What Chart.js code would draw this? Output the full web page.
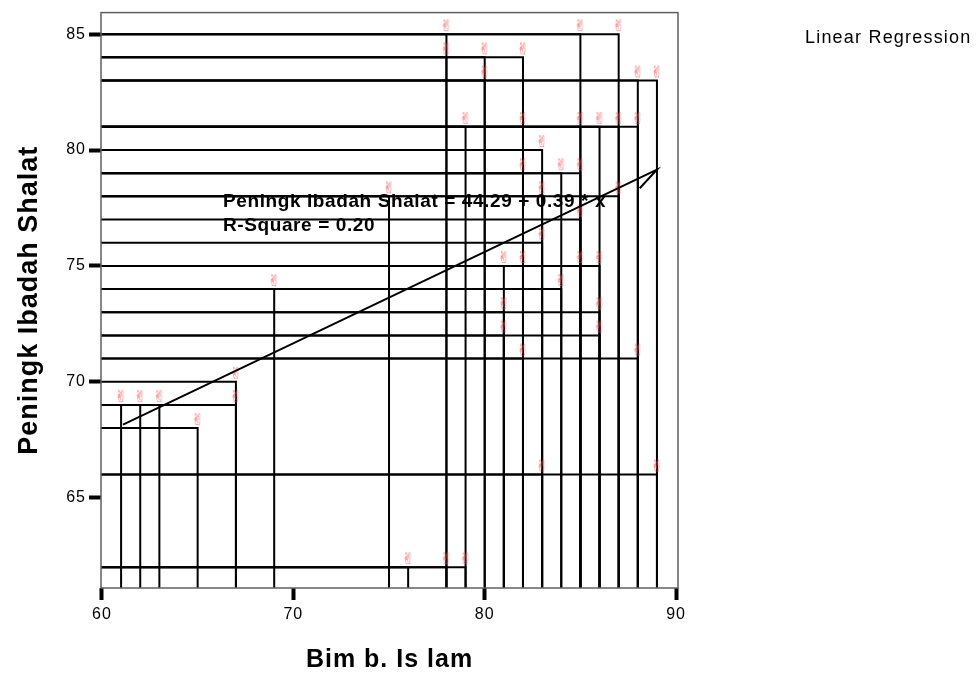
<!DOCTYPE html>
<html>
<head>
<meta charset="utf-8">
<title>Peningk Ibadah Shalat vs Bimb. Islam</title>
<script src="https://cdn.jsdelivr.net/npm/chart.js@4.4.1/dist/chart.umd.min.js"></script>
<style>
    html, body { margin: 0; padding: 0; background: #ffffff; }
    #wrap { width: 979px; height: 677px; }
</style>
</head>
<body>
<div id="wrap"><canvas id="scatterChart" width="979" height="677"></canvas></div>
<script>
// Bimb. Islam (x) and Peningk Ibadah Shalat (y), one entry per respondent
const bimbIslam = [78, 85, 87, 78, 80, 82, 80, 88, 89, 79, 82, 85, 86, 87, 88, 83, 82, 84, 85,
    75, 83, 87, 85, 83, 81, 82, 85, 86, 84, 69, 81, 86, 81, 86, 82, 88, 67,
    61, 62, 63, 67, 65, 83, 89, 76, 78, 79];
const ibadahShalat = [85, 85, 85, 84, 84, 84, 83, 83, 83, 81, 81, 81, 81, 81, 81, 80, 79, 79, 79,
    78, 78, 78, 77, 76, 75, 75, 75, 75, 74, 74, 73, 73, 72, 72, 71, 71, 70,
    69, 69, 69, 69, 68, 66, 66, 62, 62, 62];

// fitted line as drawn (with the little hook at its right end)
const fitX = [61.1, 89, 88.1];
const fitY = [68.15, 79.15, 78.35];

const xTicks = [60, 70, 80, 90];
const yTicks = [65, 70, 75, 80, 85];

const fontFamily = '"Liberation Sans", Arial, sans-serif';

// pink victory-hand marker, glyph sits a bit above the point
const marker = document.createElement('canvas');
marker.width = 16;
marker.height = 34;
const mctx = marker.getContext('2d');
mctx.fillStyle = 'rgba(240, 95, 100, 0.9)';
mctx.font = '16px "DejaVu Sans"';
mctx.textAlign = 'center';
mctx.textBaseline = 'middle';
mctx.fillText('\u270C', 8, 10);

const dropLines = {
    id: 'dropLines',
    beforeDraw(chart) {
        chart.ctx.letterSpacing = '1px';
    },
    beforeDatasetsDraw(chart) {
        const { ctx, chartArea: a, scales: { x, y } } = chart;
        ctx.save();
        ctx.strokeStyle = '#000';
        ctx.lineWidth = 2;
        for (let i = 0; i < bimbIslam.length; i++) {
            const px = x.getPixelForValue(bimbIslam[i]);
            const py = y.getPixelForValue(ibadahShalat[i]);
            ctx.beginPath();
            ctx.moveTo(a.left, py);
            ctx.lineTo(px, py);
            ctx.lineTo(px, a.bottom);
            ctx.stroke();
        }
        ctx.restore();
    },
    afterDatasetsDraw(chart) {
        const { ctx, chartArea: a } = chart;
        ctx.save();
        // plot frame
        ctx.strokeStyle = '#606060';
        ctx.lineWidth = 1.5;
        ctx.strokeRect(a.left, a.top, a.right - a.left, a.bottom - a.top);
        // equation text
        ctx.fillStyle = '#000';
        ctx.font = 'bold 19px ' + fontFamily;
        ctx.letterSpacing = '0.6px';
        ctx.textBaseline = 'alphabetic';
        ctx.fillText('Peningk Ibadah Shalat = 44.29 + 0.39 * x', 223, 207);
        ctx.fillText('R-Square = 0.20', 223, 231);
        // legend
        ctx.font = '18px ' + fontFamily;
        ctx.letterSpacing = '1.2px';
        ctx.fillText('Linear Regression', 805, 43);
        ctx.restore();
    },
    afterDraw(chart) {
        chart.ctx.letterSpacing = '0px';
    }
};

new Chart(document.getElementById('scatterChart').getContext('2d'), {
    type: 'scatter',
    data: {
        datasets: [{
            type: 'line',
            label: 'Linear Regression',
            data: fitX.map((v, i) => ({ x: v, y: fitY[i] })),
            borderColor: '#000',
            borderWidth: 2,
            pointRadius: 0,
            fill: false,
            tension: 0
        }, {
            label: 'Peningk Ibadah Shalat',
            data: bimbIslam.map((v, i) => ({ x: v, y: ibadahShalat[i] })),
            pointStyle: marker,
            pointRadius: 6
        }]
    },
    options: {
        responsive: false,
        animation: false,
        layout: {
            padding: { left: 0, top: 12, right: 301, bottom: 0 }
        },
        plugins: {
            legend: { display: false },
            tooltip: { enabled: false }
        },
        scales: {
            x: {
                type: 'linear',
                min: 59.95,
                max: 90.1,
                afterBuildTicks: s => { s.ticks = xTicks.map(v => ({ value: v })); },
                afterFit: s => { s.height = 89; },
                border: { display: false },
                grid: {
                    drawOnChartArea: false,
                    drawTicks: true,
                    tickLength: 12,
                    tickWidth: 4,
                    tickColor: '#000'
                },
                ticks: {
                    color: '#000',
                    padding: 5,
                    maxRotation: 0,
                    font: { family: fontFamily, size: 16 }
                },
                title: {
                    display: true,
                    text: 'Bim b. Is lam',
                    color: '#000',
                    padding: { top: 0, bottom: 2 },
                    font: { family: fontFamily, size: 25, weight: 'bold' }
                }
            },
            y: {
                type: 'linear',
                min: 61.1,
                max: 85.93,
                afterBuildTicks: s => { s.ticks = yTicks.map(v => ({ value: v })); },
                afterFit: s => { s.width = 101; },
                border: { display: false },
                grid: {
                    drawOnChartArea: false,
                    drawTicks: true,
                    tickLength: 12,
                    tickWidth: 4,
                    tickColor: '#000'
                },
                ticks: {
                    color: '#000',
                    padding: 3,
                    font: { family: fontFamily, size: 16 }
                },
                title: {
                    display: true,
                    text: 'Peningk Ibadah Shalat',
                    color: '#000',
                    padding: { top: 13, bottom: 0 },
                    font: { family: fontFamily, size: 27, weight: 'bold' }
                }
            }
        }
    },
    plugins: [dropLines]
});
</script>
</body>
</html>
